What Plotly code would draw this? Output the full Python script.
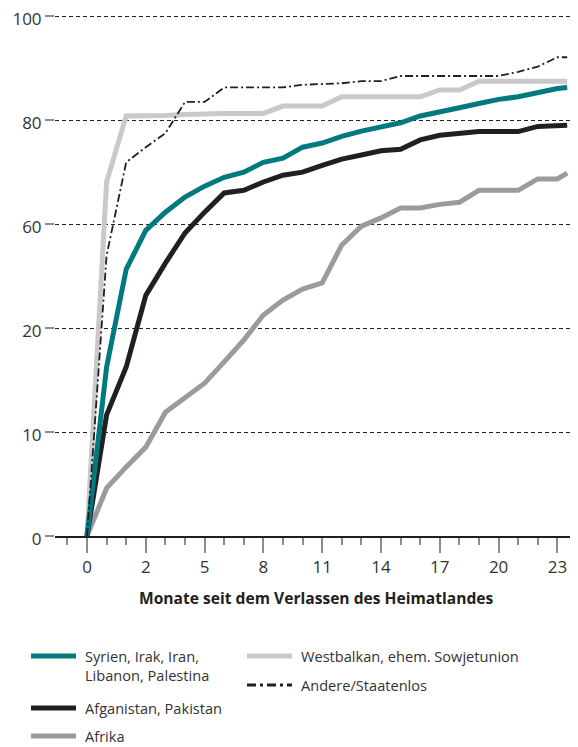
import plotly.graph_objects as go

# months since leaving the home country (index positions along the axis)
months = list(range(0, 25)) + [24.5]

# values read on the drawn (linear) vertical scale
syrien = [0, 32.5, 51.3, 58.8, 62.3, 65.2, 67.3, 69.0, 70.0, 71.9, 72.7, 74.8, 75.6,
          76.9, 77.9, 78.8, 79.5, 80.8, 81.7, 82.4, 83.2, 84.0, 84.5, 85.4, 86.1, 86.3]
afgan = [0, 23.3, 32.5, 46.3, 52.5, 58.3, 62.3, 66.0, 66.5, 68.1, 69.4, 70.0, 71.3,
         72.5, 73.3, 74.1, 74.4, 76.2, 77.1, 77.4, 77.8, 77.8, 77.8, 78.8, 79.0, 79.0]
afrika = [0, 9.2, 13.3, 17.1, 23.8, 26.5, 29.4, 33.5, 37.7, 42.5, 45.4, 47.5, 48.7,
          56.0, 59.6, 61.2, 63.1, 63.1, 63.8, 64.2, 66.5, 66.5, 66.5, 68.7, 68.7, 69.8]
westbalkan = [0, 68.1, 80.8, 80.8, 80.9, 81.1, 81.3, 81.3, 81.3, 81.3, 82.7, 82.7, 82.7,
              84.5, 84.5, 84.5, 84.5, 84.5, 85.8, 85.8, 87.5, 87.5, 87.5, 87.5, 87.5, 87.5]
andere = [0, 54.0, 71.9, 74.8, 77.5, 83.5, 83.5, 86.3, 86.3, 86.3, 86.3, 86.8, 86.9,
          87.1, 87.5, 87.5, 88.5, 88.5, 88.5, 88.5, 88.5, 88.5, 89.3, 90.3, 92.1, 92.1]

x_tickvals = [0, 3, 6, 9, 12, 15, 18, 21, 24]
x_ticktext = ["0", "2", "5", "8", "11", "14", "17", "20", "23"]
y_tickvals = [0, 20, 40, 60, 80, 100]
y_ticktext = ["0", "10", "20", "60", "80", "100"]

names = ["Syrien, Irak, Iran,<br>Libanon, Palestina", "Afganistan, Pakistan", "Afrika",
         "Westbalkan, ehem. Sowjetunion", "Andere/Staatenlos"]

TEAL = "#00797f"
BLACK = "#231f20"
GRAY = "#9b9b9e"
LGRAY = "#c9c9cb"
FONT = "Open Sans"
TXT = "#333333"
DASHDOT = "8px,3px,2px,3px"

fig = go.Figure()
fig.add_trace(go.Scatter(x=months, y=westbalkan, mode="lines", cliponaxis=False,
                         line=dict(color=LGRAY, width=5), showlegend=False))
fig.add_trace(go.Scatter(x=months, y=afrika, mode="lines", cliponaxis=False,
                         line=dict(color=GRAY, width=5), showlegend=False))
fig.add_trace(go.Scatter(x=months, y=afgan, mode="lines", cliponaxis=False,
                         line=dict(color=BLACK, width=5), showlegend=False))
fig.add_trace(go.Scatter(x=months, y=syrien, mode="lines", cliponaxis=False,
                         line=dict(color=TEAL, width=5), showlegend=False))
fig.add_trace(go.Scatter(x=months, y=andere, mode="lines", cliponaxis=False,
                         line=dict(color=BLACK, width=1.8, dash=DASHDOT),
                         showlegend=False))

# the page has an 8px body margin; the figure fits into the remaining width
OFF = 8
W, H = 578 - 2 * OFF, 747 - OFF
Y_TOP = 101.0                        # slightly above 100 so the 100 gridline is drawn
PLOT_L, PLOT_R, PLOT_B = 55, 570, 536   # page pixels
X0_PX, X_UNIT = 87, 19.6
PX_PER_UNIT = 5.2
PLOT_T = PLOT_B - Y_TOP * PX_PER_UNIT
L, T = PLOT_L - OFF, PLOT_T - OFF
R = 0
B = H - (PLOT_B - OFF)
PW, PH = PLOT_R - PLOT_L, PLOT_B - PLOT_T
x_range = [(PLOT_L - X0_PX) / X_UNIT, (PLOT_R - X0_PX) / X_UNIT]


def px(xp):
    return (xp - PLOT_L) / PW


def py(yp):
    return (PLOT_B - yp) / PH


# manual legend (page-pixel anchors)
legend_items = [
    (names[0], TEAL, "solid", 5, 31, 656),
    (names[1], BLACK, "solid", 5, 31, 708),
    (names[2], GRAY, "solid", 5, 31, 736),
    (names[3], LGRAY, "solid", 5, 247, 656),
    (names[4], BLACK, "9px,4px,3px,4px", 3, 247, 685),
]
shapes = []
annotations = []
for name, col, dash, w, x0, y0 in legend_items:
    shapes.append(dict(type="line", xref="paper", yref="paper",
                       x0=px(x0), x1=px(x0 + 45), y0=py(y0), y1=py(y0),
                       line=dict(color=col, width=w, dash=dash)))
    annotations.append(dict(xref="paper", yref="paper", x=px(x0 + 52), y=py(y0),
                            text=name, showarrow=False, xanchor="left",
                            yanchor="top" if "<br>" in name else "middle",
                            yshift=12 if "<br>" in name else 0,
                            align="left",
                            font=dict(family=FONT, size=14.6, color=TXT)))

annotations.append(dict(xref="paper", yref="paper", x=px(316), y=py(598),
                        text="<b>Monate seit dem Verlassen des Heimatlandes</b>",
                        showarrow=False, xanchor="center", yanchor="middle",
                        font=dict(family=FONT, size=15.6, color=BLACK)))

fig.update_layout(
    width=W, height=H, autosize=False,
    margin=dict(l=L, r=R, t=T, b=B, autoexpand=False),
    paper_bgcolor="white", plot_bgcolor="white",
    showlegend=False,
    shapes=shapes, annotations=annotations,
    font=dict(family=FONT, color=TXT),
)

fig.update_xaxes(
    range=x_range, showgrid=False, zeroline=False,
    showline=True, linecolor=BLACK, linewidth=1.5,
    tickmode="array", tickvals=x_tickvals, ticktext=x_ticktext,
    ticks="outside", ticklen=15, tickwidth=1.5, tickcolor="#8c8c8c",
    ticklabeloverflow="allow",
    minor=dict(tickmode="array", tickvals=list(range(-1, 25)), ticks="outside",
               ticklen=7, tickwidth=1.5, tickcolor="#8c8c8c", showgrid=False),
    tickfont=dict(family=FONT, size=17, color=TXT),
)
fig.update_yaxes(
    range=[0, Y_TOP], zeroline=False, showline=False,
    tickmode="array", tickvals=y_tickvals, ticktext=y_ticktext,
    showgrid=True, gridcolor=BLACK, gridwidth=1, griddash="4px,3px",
    ticks="outside", ticklen=9, tickwidth=2, tickcolor="#8c8c8c",
    ticklabeloverflow="allow", ticklabelshift=3,
    tickfont=dict(family=FONT, size=17, color=TXT),
)

fig.write_html("out.html")
